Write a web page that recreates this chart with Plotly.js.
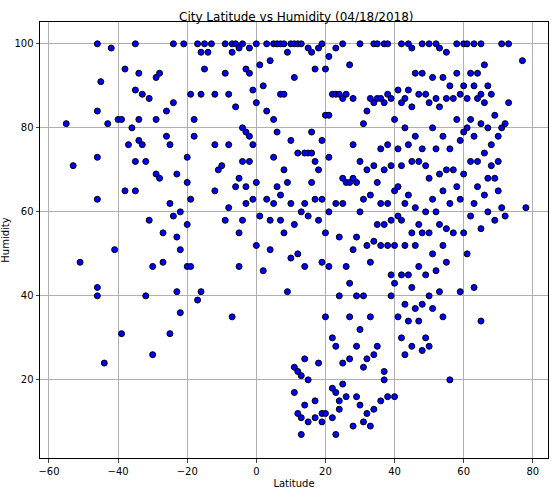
<!DOCTYPE html>
<html>
<head>
<meta charset="utf-8">
<script src="https://cdn.plot.ly/plotly-3.0.1.min.js"></script>
<style>html,body{margin:0;padding:0;background:#fff;}</style>
</head>
<body>
<div id="chart" style="width:559px;height:496px;"></div>
<script>
// [latitude, humidity] pairs
const POINTS = [
[-55,81],[-53,71],[-51,48],[-46,100],[-46,84],[-46,73],[-45,91],[-46,63],[-46,42],[-46,40],[-44,24],[-43,81],[-42,99],[-41,51],[-40,82],[-39,82],[-38,94],[-38,65],[-39,31],[-37,76],[-36,80],[-35,100],[-35,89],[-35,72],[-35,65],[-34,93],[-34,82],[-34,77],[-33,88],[-33,76],[-32,40],[-32,72],[-31,58],[-31,87],[-30,26],[-30,47],[-29,92],[-29,69],[-29,82],[-28,93],[-28,68],[-27,55],[-27,48],[-26,84],[-26,78],[-25,31],[-25,76],[-25,62],[-24,100],[-24,86],[-24,59],[-23,69],[-23,54],[-23,41],[-22,36],[-22,51],[-22,60],[-21,100],[-20,73],[-20,67],[-20,47],[-20,57],[-19,63],[-19,47],[-19,88],[-18,82],[-18,78],[-17,100],[-17,39],[-16,41],[-16,98],[-16,88],[-15,100],[-15,94],[-14,98],[-13,100],[-12,88],[-12,65],[-12,76],[-11,70],[-10,71],[-9,100],[-9,93],[-9,58],[-8,88],[-8,76],[-8,61],[-7,100],[-7,98],[-7,35],[-6,100],[-6,85],[-6,66],[-5,99],[-5,68],[-5,55],[-5,47],[-4,100],[-4,80],[-4,72],[-4,58],[-3,94],[-3,79],[-3,66],[-3,62],[-2,99],[-2,93],[-2,78],[-2,72],[-1,89],[-1,76],[-1,63],[0,100],[0,86],[0,67],[0,52],[1,95],[1,59],[2,90],[2,46],[3,100],[3,84],[3,63],[4,96],[4,58],[4,51],[5,100],[5,82],[5,73],[5,62],[6,100],[6,79],[6,66],[7,100],[7,88],[7,64],[7,58],[8,100],[8,88],[8,70],[8,55],[9,98],[9,67],[9,41],[10,100],[10,77],[10,62],[10,49],[11,100],[11,92],[11,57],[11,23],[11,17],[12,100],[12,74],[12,50],[12,22],[12,12],[13,7],[13,11],[13,21],[13,60],[13,100],[14,74],[14,62],[14,47],[14,25],[14,14],[15,99],[15,74],[15,59],[15,20],[15,10],[16,79],[16,74],[16,67],[16,98],[17,94],[17,72],[17,63],[17,15],[17,11],[18,99],[18,70],[18,58],[18,24],[19,100],[19,77],[19,63],[19,48],[19,12],[19,10],[20,94],[20,83],[20,55],[20,35],[20,12],[21,97],[21,83],[21,73],[21,60],[21,47],[22,88],[22,30],[22,18],[22,11],[23,99],[23,88],[23,62],[23,28],[23,17],[23,7],[24,88],[24,54],[24,40],[24,15],[24,13],[25,100],[25,87],[25,68],[25,62],[25,24],[25,19],[26,88],[26,67],[26,47],[26,16],[27,95],[27,67],[27,43],[27,35],[27,25],[28,87],[28,76],[28,68],[28,51],[28,9],[29,67],[29,54],[29,40],[29,28],[29,16],[30,100],[30,72],[30,60],[30,32],[30,14],[31,81],[31,63],[31,40],[31,23],[31,10],[32,84],[32,70],[32,52],[32,25],[32,12],[33,87],[33,64],[33,48],[33,35],[33,9],[34,100],[34,86],[34,71],[34,53],[34,26],[34,13],[35,100],[35,87],[35,67],[35,57],[35,28],[36,87],[36,75],[36,62],[36,52],[36,15],[37,100],[37,86],[37,70],[37,57],[37,22],[37,20],[38,100],[38,88],[38,76],[38,62],[38,52],[38,16],[39,87],[39,71],[39,58],[39,45],[39,40],[40,82],[40,65],[40,52],[40,43],[40,16],[41,89],[41,75],[41,66],[41,59],[41,35],[42,100],[42,86],[42,71],[42,58],[42,45],[42,30],[43,87],[43,80],[43,62],[43,52],[43,38],[43,26],[44,100],[44,89],[44,76],[44,64],[44,45],[44,34],[45,99],[45,85],[45,72],[45,55],[45,42],[45,28],[46,93],[46,78],[46,61],[46,52],[46,37],[47,88],[47,72],[47,57],[47,47],[47,34],[48,100],[48,93],[48,75],[48,55],[48,38],[48,27],[49,88],[49,71],[49,60],[49,45],[49,30],[50,100],[50,86],[50,68],[50,55],[50,40],[50,28],[51,92],[51,80],[51,63],[51,50],[51,37],[52,100],[52,87],[52,75],[52,60],[52,46],[53,99],[53,85],[53,69],[53,57],[53,41],[54,92],[54,78],[54,65],[54,52],[54,35],[55,98],[55,87],[55,70],[55,56],[55,48],[56,90],[56,75],[56,62],[56,20],[57,87],[57,70],[57,55],[58,100],[58,93],[58,82],[58,66],[59,88],[59,77],[59,63],[59,41],[60,100],[60,90],[60,79],[60,69],[60,55],[61,100],[61,87],[61,80],[61,50],[62,93],[62,82],[62,72],[62,59],[63,100],[63,90],[63,78],[63,62],[63,42],[64,93],[64,87],[64,72],[64,66],[65,100],[65,88],[65,81],[65,56],[65,34],[66,95],[66,86],[66,74],[66,64],[67,90],[67,80],[67,68],[67,60],[68,88],[68,76],[68,71],[69,83],[69,68],[69,58],[70,78],[70,72],[70,65],[71,100],[71,80],[71,61],[72,81],[72,59],[73,100],[73,86],[77,96],[78,61]
];
const lat = POINTS.map(p => p[0]);
const hum = POINTS.map(p => p[1]);

const font = { family: 'DejaVu Sans, sans-serif', size: 10, color: '#000' };

Plotly.newPlot('chart', [{
    x: lat, y: hum,
    type: 'scatter', mode: 'markers',
    marker: { size: 6, color: '#0000ff', line: { width: 1, color: '#000' } },
    hoverinfo: 'x+y',
}], {
    width: 559, height: 496,
    margin: { l: 40, r: 11, t: 22, b: 38 },
    paper_bgcolor: '#fff', plot_bgcolor: '#fff',
    font,
    showlegend: false,
    title: { text: 'City Latitude vs Humidity (04/18/2018)', font: { family: font.family, size: 12, color: '#000' }, x: 0.53, xanchor: 'center', y: 0.975 },
    xaxis: {
        title: { text: 'Latitude', font: { family: font.family, size: 10 }, standoff: 4 },
        range: [-62.6, 84.4], tickvals: [-60, -40, -20, 0, 20, 40, 60, 80],
        showgrid: true, gridcolor: '#b0b0b0', zeroline: false,
        showline: true, linecolor: '#000', mirror: true, ticks: 'outside', ticklen: 3.5,
    },
    yaxis: {
        title: { text: 'Humidity', font: { family: font.family, size: 10 }, standoff: 4 },
        range: [1.4, 105.2], tickvals: [20, 40, 60, 80, 100],
        showgrid: true, gridcolor: '#b0b0b0', zeroline: false,
        showline: true, linecolor: '#000', mirror: true, ticks: 'outside', ticklen: 3.5,
    },
}, { displayModeBar: false });
</script>
</body>
</html>
